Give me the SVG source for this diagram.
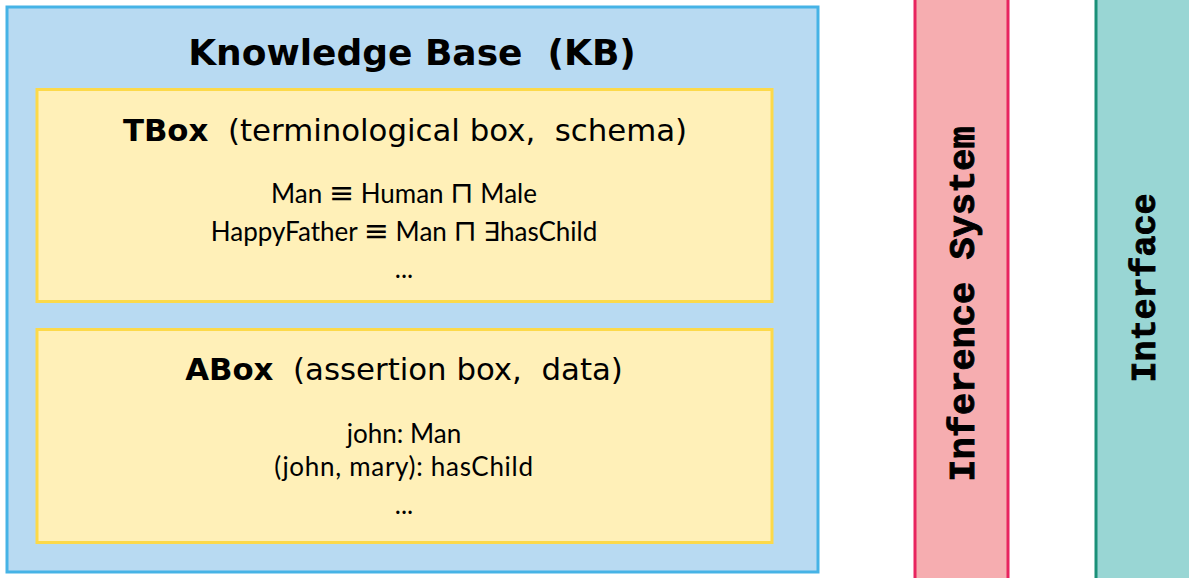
<svg xmlns="http://www.w3.org/2000/svg" width="1189" height="578" viewBox="0 0 1189 578">
  <style>
    text { white-space: pre; }
    .kb { fill: #b8daf2; stroke: #46b3e6; stroke-width: 3; }
    .box { fill: #fff0b8; stroke: #fcd94a; stroke-width: 3; }
    .inf { fill: #f6adb0; stroke: #e8245f; stroke-width: 3; }
    .ifc { fill: #99d6d4; stroke: #1a9078; stroke-width: 3; }
    .title { font-family: "DejaVu Sans", Verdana, sans-serif; font-weight: bold; font-size: 36px; fill: #000; text-anchor: middle; }
    .sub { font-family: "DejaVu Sans", Verdana, sans-serif; font-size: 30.8px; fill: #000; text-anchor: middle; }
    .sub .b { font-weight: bold; }
    .f { font-family: Lato, "DejaVu Sans", sans-serif; font-size: 26px; fill: #000; text-anchor: middle; }
    .f .op { font-family: "DejaVu Sans", sans-serif; font-size: 30px; }
    .v { font-family: "Liberation Mono", "Courier New", monospace; font-weight: bold; font-size: 37px; fill: #000; stroke: #000; stroke-width: 0.9; text-anchor: middle; }
  </style>

  <!-- knowledge base container -->
  <g id="kb">
    <rect class="kb" x="7" y="7" width="811" height="565"/>
    <text class="title" x="412" y="65">Knowledge Base  (KB)</text>
  </g>

  <!-- terminological box -->
  <g id="tbox">
    <rect class="box" x="37" y="89.5" width="735" height="212"/>
    <text class="sub" x="405" y="141"><tspan class="b">TBox</tspan>  (terminological box,  schema)</text>
    <text class="f" x="404" y="203">Man <tspan class="op">≡</tspan> Human <tspan class="op">⊓</tspan> Male</text>
    <text class="f" x="404" y="241">HappyFather <tspan class="op">≡</tspan> Man <tspan class="op">⊓</tspan> ∃hasChild</text>
    <text class="f" x="404" y="278">...</text>
  </g>

  <!-- assertion box -->
  <g id="abox">
    <rect class="box" x="37" y="329.5" width="735" height="213"/>
    <text class="sub" x="404" y="380"><tspan class="b">ABox</tspan>  (assertion box,  data)</text>
    <text class="f" x="404" y="443">john: Man</text>
    <text class="f" x="404" y="476" letter-spacing="0.7">(john, mary): hasChild</text>
    <text class="f" x="404" y="514">...</text>
  </g>

  <!-- inference system column -->
  <g id="inference">
    <rect class="inf" x="915" y="-10" width="93" height="600"/>
    <text class="v" transform="translate(974,304) rotate(-90)">Inference System</text>
  </g>

  <!-- interface column -->
  <g id="interface">
    <rect class="ifc" x="1096" y="-10" width="110" height="600"/>
    <text class="v" style="font-size:35px" transform="translate(1155,288) rotate(-90)">Interface</text>
  </g>

  <g id="connectors"/>
</svg>
